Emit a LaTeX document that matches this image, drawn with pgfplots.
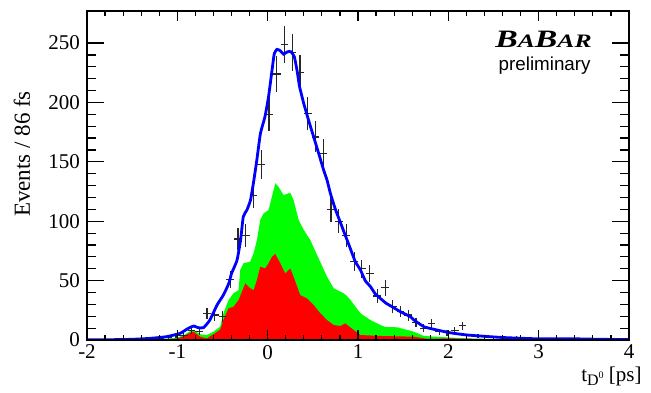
\documentclass[border=0pt]{standalone}
\usepackage{fontspec}
\setmainfont{Liberation Serif}
\newfontfamily\sansf{Liberation Sans}
\usepackage{graphicx}
\usepackage{pgfplots}
\pgfplotsset{compat=1.18}
\usepackage{pgfplotstable}
\definecolor{rootgreen}{RGB}{0,255,0}
\definecolor{rootred}{RGB}{255,0,0}
\definecolor{rootblue}{RGB}{0,0,255}

\pgfplotstableread{
x y ex ey
-1.357 1 0.043 1
-1.186 1 0.043 1
-1.100 2 0.043 1.41
-1.014 4 0.043 2
-0.929 4 0.043 2
-0.843 8 0.043 2.83
-0.757 7 0.043 2.65
-0.671 22 0.043 4.69
-0.586 21 0.043 4.58
-0.500 20 0.043 4.47
-0.414 51 0.043 7.14
-0.329 85 0.043 9.22
-0.243 88 0.043 9.38
-0.157 122 0.043 11.05
-0.071 148 0.043 12.17
0.014 190 0.043 13.78
0.100 224 0.043 14.97
0.186 249 0.043 15.78
0.271 242 0.043 15.56
0.357 225 0.043 15.00
0.443 191 0.043 13.82
0.529 171 0.043 13.08
0.614 157 0.043 12.53
0.700 110 0.043 10.49
0.786 100 0.043 10.00
0.871 88 0.043 9.38
0.957 66 0.043 8.12
1.043 60 0.043 7.75
1.129 56 0.043 7.48
1.214 37 0.043 6.08
1.300 44 0.043 6.63
1.386 28 0.043 5.29
1.471 24 0.043 4.90
1.557 21 0.043 4.58
1.643 15 0.043 3.87
1.729 10 0.043 3.16
1.814 14 0.043 3.74
1.900 7 0.043 2.65
1.986 6 0.043 2.45
2.071 8 0.043 2.83
2.157 12 0.043 3.46
2.329 3 0.043 1.73
2.500 2 0.043 1.41
2.757 2 0.043 1.41
3.014 1 0.043 1
3.357 1 0.043 1
}\datatab

\begin{document}
\begin{tikzpicture}
\useasboundingbox (-43.5pt,-26pt) rectangle (282pt,170pt);
\begin{axis}[
  scale only axis, width=271pt, height=164.5pt,
  xmin=-2, xmax=4, ymin=0, ymax=277,
  xtick={-2,-1,0,1,2,3,4}, xticklabels={-2,-1,0,1,2,3,4},
  ytick={0,50,100,150,200,250}, yticklabels={0,50,100,150,200,250},
  minor x tick num=4, minor y tick num=4,
  tick align=inside,
  axis line style={line width=0.8pt},
  every tick/.style={black, line width=0.6pt},
  xtick style={/pgfplots/major tick length=5pt, /pgfplots/minor tick length=2.5pt},
  ytick style={/pgfplots/major tick length=8.5pt, /pgfplots/minor tick length=4.5pt},
  tick label style={font=\fontsize{10.5}{12}\selectfont},
  xticklabel style={yshift=1pt},
  axis on top,
]
\addplot[fill=rootgreen, draw=none] coordinates {
(-2,0) (-1.5,0.2) (-1.2,0.6) (-1.0,2) (-0.92,4.5) (-0.858,7.5) (-0.82,8.4) (-0.747,4.8) (-0.673,4.2) (-0.6,7) (-0.526,11.2) (-0.49,22.4) (-0.433,33.7) (-0.378,39.3) (-0.322,42) (-0.304,59) (-0.267,64.6) (-0.193,66) (-0.156,73) (-0.119,84) (-0.082,101) (-0.045,106.6) (0.01,109.4) (0.047,120.6) (0.084,132) (0.12,129) (0.176,122) (0.25,124) (0.287,117.8) (0.343,101) (0.4,92.6) (0.473,84) (0.547,71.5) (0.657,53.3) (0.731,43.5) (0.842,39.3) (0.879,37) (0.916,33.7) (1.027,22.5) (1.138,16.8) (1.248,12.6) (1.3,11) (1.433,10.7) (1.618,7) (1.73,3.4) (1.99,2.2) (2.2,1.4) (2.6,0.6) (3,0.3) (4,0)
} \closedcycle;
\addplot[fill=rootred, draw=none] coordinates {
(-2,0) (-1.5,0.1) (-1.2,0.4) (-1.0,1.2) (-0.92,3.5) (-0.858,6.2) (-0.82,7) (-0.747,2.8) (-0.673,1.4) (-0.6,4.8) (-0.526,8.7) (-0.49,16.8) (-0.433,26.7) (-0.378,28) (-0.322,33.7) (-0.248,47.7) (-0.193,43.5) (-0.156,42) (-0.119,50.5) (-0.082,61.7) (-0.027,60.3) (0.01,64.6) (0.047,70) (0.084,72.4) (0.14,64.6) (0.195,56) (0.25,60.3) (0.287,53.3) (0.36,37.9) (0.436,35) (0.509,29.5) (0.583,22.5) (0.657,16.8) (0.731,12.6) (0.805,11.8) (0.86,14) (0.953,8.4) (1.027,4.2) (1.25,3.4) (1.62,2.8) (1.77,1) (1.99,1.4) (2.6,0.6) (3,0.2) (4,0)
} \closedcycle;
\addplot[black, line width=0.6pt, only marks, mark=text, text mark={},
  error bars/.cd, x dir=both, x explicit, y dir=both, y explicit,
  error mark=none, error bar style={line width=0.6pt, black!85}]
  table[x=x, y=y, x error=ex, y error=ey] {\datatab};
\addplot[rootblue, line width=1.4pt, smooth, tension=0.3] coordinates {
(-2,0.2) (-1.7,0.3) (-1.5,0.6) (-1.3,1.4) (-1.12,2.8) (-0.97,5.6) (-0.88,9.8) (-0.82,11.8) (-0.77,10.4) (-0.71,10.4) (-0.64,16.8) (-0.56,29.5) (-0.49,37.9) (-0.43,47.7) (-0.40,56) (-0.34,67) (-0.30,84) (-0.27,103.8) (-0.23,109.4) (-0.19,117.8) (-0.156,133) (-0.12,151.5) (-0.08,174) (-0.03,188) (0.01,205) (0.048,227) (0.073,241) (0.103,244.7) (0.14,243.5) (0.176,240.7) (0.22,242.7) (0.258,242.7) (0.295,238.5) (0.325,227) (0.354,213) (0.40,199) (0.453,185) (0.509,171) (0.565,157) (0.62,143) (0.657,134.7) (0.694,123.5) (0.75,110) (0.80,100) (0.86,88) (0.91,78) (0.97,66) (1.027,59) (1.08,50) (1.138,44.9) (1.19,39) (1.248,35) (1.31,31) (1.378,28) (1.47,23.8) (1.58,19.6) (1.62,16.8) (1.73,11.2) (1.84,9) (2.02,6.1) (2.21,4.2) (2.58,2.2) (2.95,1.1) (3.32,1.1) (3.69,0.6) (4.0,0.3)
};
\end{axis}
\node[rotate=90, anchor=center, inner sep=0, font=\fontsize{11.5}{13}\selectfont] at (-32.5pt,93pt) {Events / 86 fs};
\node[anchor=base east, inner sep=0, font=\fontsize{10.5}{12}\selectfont] at (277.5pt,-20.5pt) {t\raisebox{-0.45ex}{\fontsize{8}{10}\selectfont D\raisebox{0.9ex}{\fontsize{5}{6}\selectfont 0}} [ps]};
\node[anchor=base east, inner sep=0] at (252.5pt,146.5pt) {\scalebox{1.35}[1]{\bfseries\itshape\fontsize{12.5}{14}\selectfont B\fontsize{9.5}{11}\selectfont A\fontsize{12.5}{14}\selectfont B\fontsize{9.5}{11}\selectfont AR}};
\node[anchor=base east, inner sep=0, font=\sansf\fontsize{9.4}{11}\selectfont] at (252pt,135pt) {preliminary};
\end{tikzpicture}
\end{document}
